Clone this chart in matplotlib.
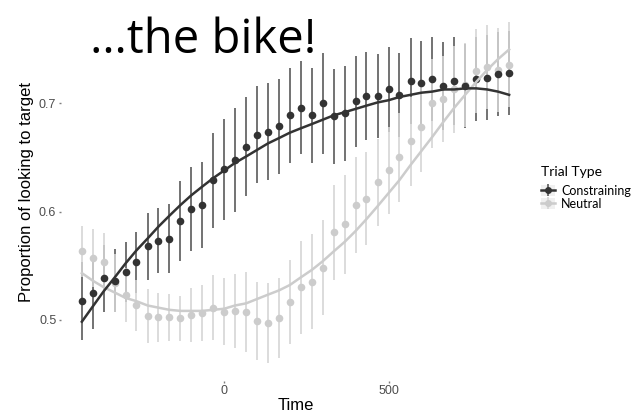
import matplotlib
matplotlib.use("Agg")
import matplotlib.pyplot as plt
from matplotlib.lines import Line2D
from matplotlib.patches import Patch

# time bins (ms)
time_ms = [-433, -400, -367, -333, -300, -267, -233, -200, -167, -133,
           -100, -67, -33, 0, 33, 67, 100, 133, 167, 200,
           233, 267, 300, 333, 367, 400, 433, 467, 500, 533,
           567, 600, 633, 667, 700, 733, 767, 800, 833, 867]

# Constraining: mean, standard error, fitted curve
constr_mean = [0.517, 0.525, 0.538, 0.536, 0.544, 0.553, 0.568, 0.573, 0.575, 0.591,
               0.602, 0.606, 0.629, 0.639, 0.648, 0.660, 0.671, 0.674, 0.679, 0.689,
               0.696, 0.689, 0.700, 0.688, 0.691, 0.702, 0.707, 0.707, 0.713, 0.708,
               0.721, 0.719, 0.723, 0.716, 0.721, 0.716, 0.723, 0.724, 0.727, 0.728]
constr_se = [0.036, 0.034, 0.031, 0.029, 0.028, 0.028, 0.031, 0.030, 0.032, 0.037,
             0.039, 0.040, 0.044, 0.047, 0.048, 0.046, 0.045, 0.045, 0.044, 0.044,
             0.043, 0.044, 0.047, 0.044, 0.044, 0.042, 0.041, 0.039, 0.039, 0.039,
             0.040, 0.039, 0.039, 0.041, 0.041, 0.039, 0.039, 0.039, 0.039, 0.039]
constr_fit = [0.498, 0.512, 0.526, 0.539, 0.552, 0.564, 0.575, 0.586, 0.596, 0.606,
              0.615, 0.623, 0.631, 0.638, 0.645, 0.651, 0.657, 0.663, 0.668, 0.673,
              0.677, 0.681, 0.685, 0.689, 0.692, 0.695, 0.698, 0.701, 0.703, 0.706,
              0.708, 0.710, 0.711, 0.713, 0.713, 0.714, 0.714, 0.713, 0.711, 0.708]

# Neutral: mean, standard error, fitted curve
neutral_mean = [0.563, 0.557, 0.553, 0.534, 0.523, 0.513, 0.503, 0.502, 0.502, 0.501,
                0.504, 0.506, 0.511, 0.507, 0.508, 0.507, 0.499, 0.497, 0.501, 0.516,
                0.530, 0.535, 0.548, 0.581, 0.588, 0.606, 0.612, 0.627, 0.638, 0.650,
                0.665, 0.678, 0.700, 0.704, 0.713, 0.717, 0.730, 0.734, 0.731, 0.736]
neutral_se = [0.024, 0.027, 0.027, 0.027, 0.025, 0.024, 0.025, 0.023, 0.022, 0.021,
              0.025, 0.026, 0.030, 0.031, 0.034, 0.037, 0.036, 0.037, 0.037, 0.039,
              0.043, 0.044, 0.044, 0.044, 0.046, 0.044, 0.043, 0.040, 0.040, 0.041,
              0.041, 0.041, 0.041, 0.040, 0.040, 0.039, 0.039, 0.039, 0.039, 0.039]
neutral_fit = [0.543, 0.536, 0.530, 0.525, 0.520, 0.517, 0.513, 0.511, 0.509, 0.508,
               0.508, 0.508, 0.509, 0.510, 0.513, 0.515, 0.519, 0.523, 0.527, 0.532,
               0.539, 0.546, 0.554, 0.563, 0.572, 0.582, 0.593, 0.605, 0.617, 0.629,
               0.643, 0.656, 0.669, 0.683, 0.696, 0.708, 0.720, 0.731, 0.741, 0.750]

dark = "#333333"
dark_bar = "#5a5a5a"
light = "#cccccc"
light_bar = "#d6d6d6"

plt.rcParams['font.family'] = ['Liberation Sans', 'DejaVu Sans']

fig = plt.figure(figsize=(6.4, 4.12), dpi=100)
ax = fig.add_axes([60.5 / 640, 31 / 412, 470 / 640, 381 / 412])

# error bars first (constraining, then neutral), then points, then fits
ax.vlines(time_ms, [m - s for m, s in zip(constr_mean, constr_se)],
          [m + s for m, s in zip(constr_mean, constr_se)], color=dark_bar, lw=1.2)
ax.vlines(time_ms, [m - s for m, s in zip(neutral_mean, neutral_se)],
          [m + s for m, s in zip(neutral_mean, neutral_se)], color=light_bar, lw=1.2)
ax.plot(time_ms, neutral_mean, 'o', color=light, ms=5.5, mec='none')
ax.plot(time_ms, constr_mean, 'o', color=dark, ms=5.5, mec='none')
ax.plot(time_ms, neutral_fit, '-', color=light, lw=1.8)
ax.plot(time_ms, constr_fit, '-', color=dark, lw=1.8)

ax.set_xlim(-498, 932)
ax.set_ylim(0.4431, 0.7958)
ax.set_xticks([0, 500])
ax.set_yticks([0.5, 0.6, 0.7])
ax.set_yticklabels(['0.5', '0.6', '0.7'])
for s in ax.spines.values():
    s.set_visible(False)
ax.tick_params(length=1.5, width=1, color='#7f7f7f', labelcolor='#4d4d4d',
               labelsize=9, pad=1.5)

ax.set_xlabel('Time', fontsize=12, va='center')
ax.xaxis.set_label_coords(0.5, -0.063)
ax.set_ylabel('Proportion of looking to target', fontsize=12, va='center')
ax.yaxis.set_label_coords(-0.073, 0.495)

fig.text(90 / 640, 1 - 53 / 412, '\u2026the bike!', fontsize=34,
         family=['Open Sans', 'DejaVu Sans'], va='baseline', ha='left')

key_bg = '#f0f0f0'
h_c = (Patch(facecolor=key_bg, edgecolor='none'),
       Line2D([], [], color=dark, lw=1.8),
       Line2D([], [], marker='|', color=dark_bar, ms=9, mew=1.2, ls='none'),
       Line2D([], [], marker='o', color=dark, ms=5, mec='none', ls='none'))
h_n = (Patch(facecolor=key_bg, edgecolor='none'),
       Line2D([], [], color=light, lw=1.8),
       Line2D([], [], marker='|', color=light_bar, ms=9, mew=1.2, ls='none'),
       Line2D([], [], marker='o', color=light, ms=5, mec='none', ls='none'))
leg = fig.legend([h_c, h_n], ['Constraining', 'Neutral'], title='Trial Type',
                 loc='upper left', bbox_to_anchor=(541 / 640, 1 - 166 / 412),
                 frameon=False, handlelength=1.1, handleheight=1.0, handletextpad=0.5,
                 labelspacing=0.05, borderaxespad=0, borderpad=0,
                 prop={'family': 'Lato', 'size': 9},
                 title_fontproperties={'family': 'Lato', 'size': 10})
leg._legend_box.align = 'left'
leg._legend_box.sep = 5

fig.savefig('out.png', dpi=100, facecolor='white')
